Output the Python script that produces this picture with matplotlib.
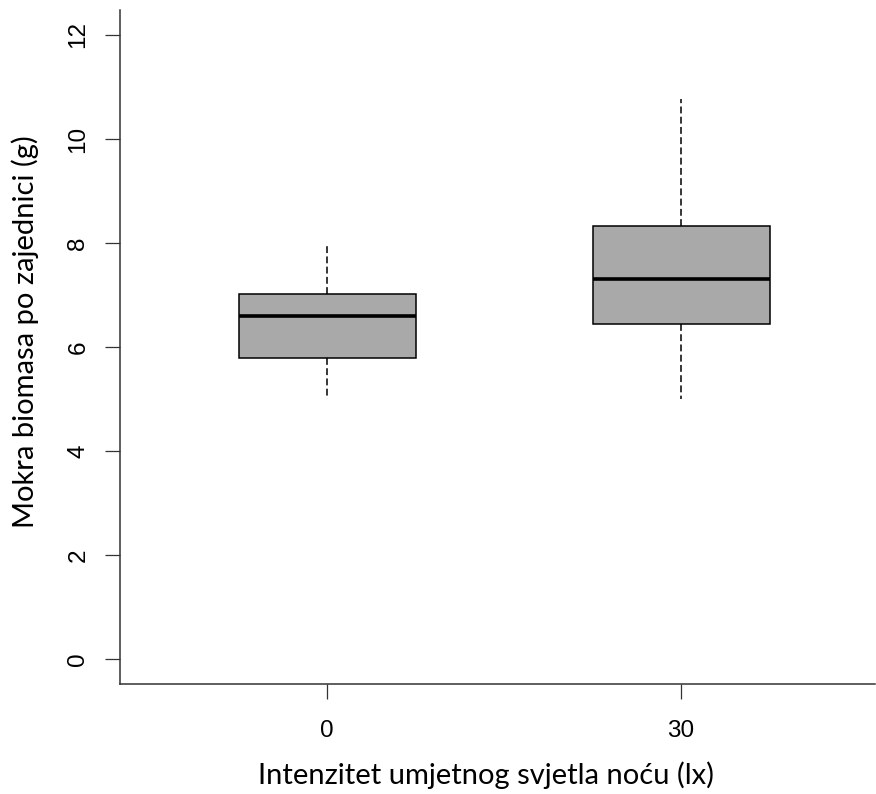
import matplotlib.pyplot as plt

# Box statistics.
groups = ['0', '30']
whisker_low = [5.0, 5.0]
q1 = [5.78, 6.45]
medians = [6.6, 7.3]
q3 = [7.02, 8.33]
whisker_high = [7.97, 10.77]
y_ticks = [0, 2, 4, 6, 8, 10, 12]

x_label = 'Intenzitet umjetnog svjetla noću (lx)'
y_label = 'Mokra biomasa po zajednici (g)'

plt.rcParams['font.family'] = ['Liberation Sans', 'DejaVu Sans']

stats = []
for name, lo, a, m, b, hi in zip(groups, whisker_low, q1, medians, q3, whisker_high):
    stats.append({'label': name, 'whislo': lo, 'q1': a, 'med': m,
                  'q3': b, 'whishi': hi, 'fliers': []})

fig = plt.figure(figsize=(8.76, 7.94), dpi=100)
ax = fig.add_axes([120 / 876, 1 - 684 / 794, 755 / 876, 674 / 794])

ax.bxp(stats, positions=[1, 2], widths=0.5, patch_artist=True, showcaps=False,
       boxprops=dict(facecolor='#a9a9a9', edgecolor='black', linewidth=1.1),
       medianprops=dict(color='black', linewidth=2.6),
       whiskerprops=dict(color='black', linewidth=1.1, linestyle=(0, (4.5, 2.2))))

ax.set_xlim(0.415, 2.548)
ax.set_ylim(-0.48, 12.48)

ax.spines['top'].set_visible(False)
ax.spines['right'].set_visible(False)
for s in ('left', 'bottom'):
    ax.spines[s].set_linewidth(1.1)
    ax.spines[s].set_color('#333333')

ax.set_yticks(y_ticks)
ax.set_yticklabels([str(t) for t in y_ticks])
ax.set_xticks([1, 2])
ax.set_xticklabels(groups)
ax.tick_params(axis='y', length=11, width=0.9, pad=11, color='#333333',
               labelsize=17.5, labelrotation=90)
ax.tick_params(axis='x', length=11, width=0.9, pad=15, color='#333333',
               labelsize=17.5)
for lbl in ax.get_yticklabels():
    lbl.set_verticalalignment('center')

fig.text(486 / 876, 1 - 775 / 794, x_label, ha='center', va='center',
         fontfamily='Lato', fontsize=21)
fig.text(25 / 876, 1 - 332 / 794, y_label, ha='center', va='center',
         rotation=90, fontfamily='Lato', fontsize=21)

fig.savefig('out.png', dpi=100)
